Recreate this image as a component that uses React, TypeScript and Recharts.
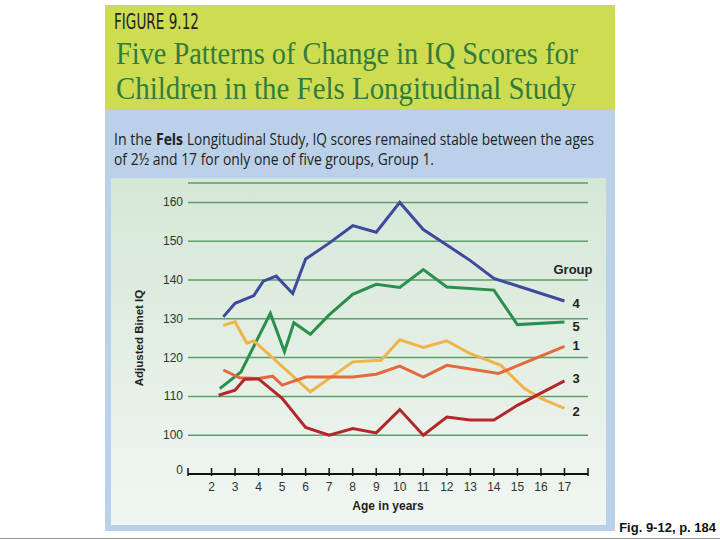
import React from "react";
import { LineChart, Line, XAxis, YAxis, CartesianGrid } from "recharts";

// ages / IQ per group
const ages1 = [2.5, 3.2, 4, 4.6, 5, 6, 7, 8, 9, 10, 11, 12, 14.2, 17];
const iq1 = [116.8, 114.8, 114.6, 115.2, 112.9, 115, 115, 115, 115.7, 117.8, 115, 118, 115.9, 122.9];

const ages2 = [2.5, 3, 3.5, 3.8, 6.2, 8, 9.2, 10, 11, 12, 13, 14.3, 15.3, 16, 17];
const iq2 = [128.3, 129.2, 123.7, 124.3, 111.2, 118.9, 119.3, 124.6, 122.6, 124.3, 121, 118, 112, 109.5, 106.9];

const ages3 = [2.3, 3, 3.4, 4, 5, 6, 7, 8, 9, 10, 11, 12, 13, 14, 15, 17];
const iq3 = [110.3, 111.6, 114.4, 114.5, 109.5, 102, 100, 101.7, 100.6, 106.6, 100, 104.7, 103.9, 103.9, 107.7, 114];

const ages4 = [2.5, 3, 3.8, 4.2, 4.75, 5.45, 6, 7, 8, 9, 10, 11, 12, 13, 14, 17];
const iq4 = [130.5, 134, 136, 139.7, 141, 136.5, 145.4, 149.5, 154, 152.3, 160, 153, 149, 145, 140.4, 134.6];

const ages5 = [2.35, 3.25, 4.5, 5.1, 5.5, 6.2, 7, 8, 9, 10, 11, 12, 14, 15, 17];
const iq5 = [112, 116.3, 131.4, 121.5, 129, 126, 131, 136.3, 138.9, 138.1, 142.7, 138.2, 137.4, 128.5, 129.2];

const xTicks = [1, 2, 3, 4, 5, 6, 7, 8, 9, 10, 11, 12, 13, 14, 15, 16, 17, 18];
const yTicks = [90, 100, 110, 120, 130, 140, 150, 160];

const toRows = (ages: number[], iq: number[]) => ages.map((a, i) => ({ age: a, iq: iq[i] }));

const groups = [
  { name: "4", rows: toRows(ages4, iq4), color: "#3e4a9e", dy: 7 },
  { name: "5", rows: toRows(ages5, iq5), color: "#2b8f4f", dy: 9 },
  { name: "2", rows: toRows(ages2, iq2), color: "#f1b448", dy: 8 },
  { name: "1", rows: toRows(ages1, iq1), color: "#e5693f", dy: 4 },
  { name: "3", rows: toRows(ages3, iq3), color: "#b3262b", dy: 2 },
];

const sans = "'Liberation Sans', Arial, sans-serif";
const body = "'Open Sans', 'Noto Sans', sans-serif";

const endLabel = (text: string, last: number, dy: number) => (props: any) => {
  if (props.index !== last) return <g />;
  return (
    <text x={props.x + 8} y={props.y + dy} fontFamily={sans} fontWeight="bold" fontSize={13} fill="#222">
      {text}
    </text>
  );
};

const XTick = (props: any) => {
  const { x, y, payload } = props;
  const v = payload.value;
  return (
    <g>
      <line x1={x} x2={x} y1={y - 8} y2={y} stroke="#111" strokeWidth={1.5} />
      {v >= 2 && v <= 17 && (
        <text x={x} y={y + 15} textAnchor="middle" fontFamily={sans} fontSize={12} fill="#333">
          {v}
        </text>
      )}
    </g>
  );
};

const YTick = (props: any) => {
  const { x, y, payload } = props;
  const v = payload.value;
  return (
    <text x={x} y={y} dy={v === 90 ? 0 : 4} textAnchor="end" fontFamily={sans} fontSize={12} fill="#333">
      {v === 90 ? "0" : v}
    </text>
  );
};

export default function App() {
  return (
    <div style={{ position: "absolute", left: 0, top: 0, width: 720, height: 540, background: "#fff", overflow: "hidden" }}>
      <svg width={720} height={540} style={{ position: "absolute", left: 0, top: 0 }}>
        <defs>
          <linearGradient id="panel" x1="0" y1="0" x2="0" y2="1">
            <stop offset="0" stopColor="#d5e7d6" />
            <stop offset="1" stopColor="#f1f6f2" />
          </linearGradient>
        </defs>
        <rect x={105} y={5} width={510} height={105} fill="#cedc52" />
        <rect x={105} y={110} width={510} height={421} fill="#bbd1ea" />
        <rect x={111} y={178} width={495} height={347} fill="url(#panel)" />
        <line x1={0} x2={720} y1={538.5} y2={538.5} stroke="#999" strokeWidth={1} />

        <text x={114} y={29} fontFamily="'DejaVu Sans Condensed', 'Liberation Sans Narrow', sans-serif" fontSize={21}
          fill="#222" textLength={85} lengthAdjust="spacingAndGlyphs">FIGURE 9.12</text>
        <text x={116} y={64} fontFamily="'Liberation Serif', serif" fontSize={31} fill="#2f7d3d"
          textLength={462} lengthAdjust="spacingAndGlyphs">Five Patterns of Change in IQ Scores for</text>
        <text x={116} y={99} fontFamily="'Liberation Serif', serif" fontSize={31} fill="#2f7d3d"
          textLength={460} lengthAdjust="spacingAndGlyphs">Children in the Fels Longitudinal Study</text>

        <text x={114} y={145} fontFamily={body} fontSize={16} fill="#222"
          textLength={38} lengthAdjust="spacingAndGlyphs">In the</text>
        <text x={156} y={145} fontFamily={body} fontWeight="bold" fontSize={16} fill="#222"
          textLength={27} lengthAdjust="spacingAndGlyphs">Fels</text>
        <text x={187} y={145} fontFamily={body} fontSize={16} fill="#222"
          textLength={407} lengthAdjust="spacingAndGlyphs">Longitudinal Study, IQ scores remained stable between the ages</text>
        <text x={114} y={165} fontFamily={body} fontSize={16} fill="#222"
          textLength={320} lengthAdjust="spacingAndGlyphs">of 2½ and 17 for only one of five groups, Group 1.</text>

        <text x={140} y={338} transform="rotate(-90 140 338)" textAnchor="middle" dominantBaseline="middle"
          fontFamily={sans} fontWeight="bold" fontSize={11.5} fill="#222">Adjusted Binet IQ</text>
        <text x={388} y={510} textAnchor="middle" fontFamily={sans} fontWeight="bold" fontSize={12} fill="#222">
          Age in years
        </text>
        <text x={573} y={274} textAnchor="middle" fontFamily={sans} fontWeight="bold" fontSize={13} fill="#222">
          Group
        </text>
        <text x={716} y={532} textAnchor="end" fontFamily={sans} fontWeight="bold" fontSize={13} fill="#111">
          Fig. 9-12, p. 184
        </text>
      </svg>

      <div style={{ position: "absolute", left: 0, top: 0 }}>
        <LineChart width={720} height={540} margin={{ top: 183, right: 132, bottom: 36, left: 148 }}>
          <CartesianGrid vertical={false} stroke="#5c9f6c" strokeWidth={1.5} />
          <XAxis
            type="number"
            dataKey="age"
            domain={[1, 18]}
            ticks={xTicks}
            interval={0}
            height={30}
            tickSize={0}
            tickLine={false}
            axisLine={{ stroke: "#111", strokeWidth: 2 }}
            tick={<XTick />}
          />
          <YAxis
            type="number"
            domain={[90, 165]}
            ticks={yTicks}
            interval={0}
            width={40}
            tickSize={0}
            tickMargin={5}
            tickLine={false}
            axisLine={false}
            tick={<YTick />}
          />
          {groups.map((g) => (
            <Line
              key={g.name}
              data={g.rows}
              dataKey="iq"
              type="linear"
              stroke={g.color}
              strokeWidth={3}
              dot={false}
              activeDot={false}
              isAnimationActive={false}
              label={endLabel(g.name, g.rows.length - 1, g.dy)}
            />
          ))}
        </LineChart>
      </div>
    </div>
  );
}
